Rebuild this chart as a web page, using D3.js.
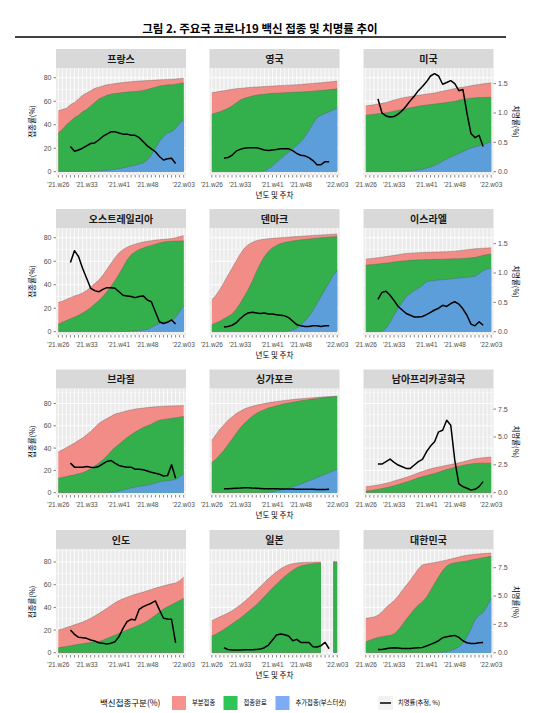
<!DOCTYPE html>
<html><head><meta charset="utf-8">
<script src="https://cdn.jsdelivr.net/npm/d3@7/dist/d3.min.js"></script>
<style>
body{margin:0;background:#fff}
svg{display:block}
text{font-family:"Noto Sans CJK KR","Noto Sans",sans-serif}
.tick{font-family:"Liberation Sans","DejaVu Sans",sans-serif}
</style>
</head><body><svg id="c" width="554" height="713"></svg>
<script>
// ---------------- DATA ----------------
const weeks = ["'21.w26","'21.w27","'21.w28","'21.w29","'21.w30","'21.w31","'21.w32","'21.w33","'21.w34","'21.w35","'21.w36","'21.w37","'21.w38","'21.w39","'21.w40","'21.w41","'21.w42","'21.w43","'21.w44","'21.w45","'21.w46","'21.w47","'21.w48","'21.w49","'21.w50","'21.w51","'21.w52","'21.w53","'22.w00","'22.w01","'22.w02","'22.w03"];
const tickWeeks = ["'21.w26","'21.w33","'21.w41","'21.w48","'22.w03"];
const leftTicks = [0,20,40,60,80];
const rightTicksA = [0,0.5,1.0,1.5];
const rightTicksB = [0,2.5,5.0,7.5];

const countryNames = ["프랑스","영국","미국","오스트레일리아","덴마크","이스라엘","브라질","싱가포르","남아프리카공화국","인도","일본","대한민국"];

// partial (at least one dose), fully vaccinated, booster (% of population), case fatality rate (%)
const franceDose1 = [52,53,54,57,59,62,65,67,69,71,72,73,74,74.5,75,75.5,76,76.3,76.6,77,77.2,77.4,77.6,77.8,78,78.2,78.4,78.6,78.8,79,79.3,79.6];
const franceFull  = [33,36,40,43,46,48,51,53,56,59,62,63.5,65,66,66.5,67,67.5,67.8,68,68.3,68.7,69.2,70,71,72,73,73.5,74,74,74.5,75,75.7];
const franceBoost = [0.3,0.3,0.3,0.3,0.3,0.3,0.3,0.4,0.5,0.6,0.8,1,1.3,1.7,2.1,2.6,3.2,4,4.8,5.6,6.5,7.5,10,14,20,26,30,33,34,37,41,44.5];
const franceCfr   = [null,null,null,0.43,0.35,0.37,0.40,0.44,0.48,0.49,0.54,0.60,0.64,0.68,0.68,0.66,0.64,0.64,0.62,0.62,0.58,0.51,0.44,0.39,0.34,0.26,0.20,0.22,0.23,0.14,null,null];

const ukDose1 = [67.2,67.8,68.4,69,69.6,70.2,70.6,71,71.3,71.6,71.9,72.1,72.3,72.5,72.7,72.9,73.1,73.3,73.5,73.7,73.9,74.1,74.3,74.6,74.9,75.2,75.5,75.8,76.1,76.4,76.8,77.2];
const ukFull  = [49,50,51,52.5,54,56,58.5,61,62.5,63.5,64.5,65.2,65.7,66,66.3,66.7,66.9,67.1,67.3,67.5,67.7,67.8,67.9,68,68.3,68.6,68.9,69.2,69.5,69.8,70.2,70.6];
const ukBoost = [0,0,0,0,0,0,0,0,0,0,0,0,0,0.5,2.5,5,8,11,14,16.5,19.5,22.5,25.5,30,35,41,46,48,49.5,51,52.5,54];
const ukCfr   = [null,null,null,0.23,0.24,0.28,0.35,0.38,0.40,0.41,0.41,0.41,0.39,0.37,0.36,0.37,0.38,0.39,0.39,0.39,0.36,0.31,0.28,0.27,0.24,0.19,0.12,0.12,0.17,0.17,null,null];

const usDose1 = [56,56.5,57,57.6,58.2,59,60,61,62,62.8,63.5,64,64.6,65.1,65.6,66.1,66.5,67,67.8,68.6,69.4,70.1,70.8,71.5,72,72.6,73.2,73.8,74.3,74.8,75.3,75.7];
const usFull  = [48.2,48.5,48.9,49.3,49.7,50.2,50.8,51.5,52.3,53,53.7,54.4,55.1,55.8,56.3,56.8,57.2,57.6,58,58.4,58.9,59.4,60,60.8,61.6,62.2,62.6,62.9,63.1,63.2,63.3,63.3];
const usBoost = [0,0,0,0,0,0,0.1,0.2,0.3,0.4,0.5,0.7,1,1.5,2.2,3,4,5.3,7,9,10.8,12.5,14,15.5,17,18.7,20.2,21.2,22,23,24.3,25.5];
const usCfr   = [null,null,null,1.24,1.00,0.95,0.93,0.94,0.98,1.04,1.12,1.21,1.29,1.38,1.45,1.53,1.63,1.67,1.63,1.49,1.52,1.55,1.50,1.38,1.40,1.00,0.65,0.58,0.62,0.43,null,null];

const auDose1 = [25,26,27.5,29,30.5,31.5,33,35,38,41,44,48,53,58,63,67,70,72,73.5,74.5,75.5,76.3,77,77.5,78,78.4,78.7,79,79.3,80,81,81.8];
const auFull  = [6.5,8,9.5,11,12.5,14,16,18,20.5,23.5,26.5,30,34,38.5,43.5,49,55,61,65.5,68,70,71.3,72.5,73.5,74.5,75.5,76.3,76.8,77,77.2,77.3,77.4];
const auBoost = [0,0,0,0,0,0,0,0,0,0,0,0,0,0,0,0.1,0.2,0.3,0.5,0.7,1,1.5,2,3.5,5.5,7,8,8.7,9.4,12,17,22.7];
const auCfr   = [null,null,null,1.18,1.38,1.28,1.08,0.91,0.74,0.70,0.68,0.72,0.75,0.75,0.74,0.68,0.62,0.61,0.60,0.58,0.60,0.61,0.54,0.51,0.34,0.17,0.14,0.16,0.20,0.13,null,null];

const dkDose1 = [27,31,36,42,48,54,60,66,71,74,76,77.5,78.3,78.8,79.2,79.5,79.8,80,80.3,80.5,80.8,81,81.2,81.5,81.7,82,82.2,82.4,82.6,82.8,83,83.2];
const dkFull  = [6,7.5,9,11,13,15,19,24,30,36,43,51,58,64,68.5,71.5,73.5,75,76,76.7,77.3,77.8,78.2,78.6,79,79.3,79.6,79.9,80.2,80.5,80.8,81];
const dkBoost = [0,0,0,0,0,0,0,0,0,0,0,0,0,0,0,0,0,0,0,0.5,1.5,3,5.5,9,13,18,24,30,36,42,48,52];
const dkCfr   = [null,null,null,0.08,0.09,0.11,0.15,0.22,0.28,0.32,0.33,0.32,0.31,0.32,0.30,0.30,0.29,0.28,0.27,0.24,0.18,0.12,0.10,0.09,0.09,0.10,0.10,0.09,0.10,0.10,null,null];

const ilDose1 = [61.8,62.2,62.6,63,63.5,64,64.5,65,65.6,66.2,66.6,66.9,67.1,67.3,67.5,67.6,67.7,67.8,67.9,68,68.1,68.3,68.6,69,69.4,69.8,70.2,70.6,70.9,71.1,71.3,71.5];
const ilFull  = [56.7,57,57.3,57.6,58,58.4,58.8,59.3,59.8,60.2,60.5,60.8,61,61.2,61.3,61.4,61.5,61.6,61.7,61.8,61.9,62,62.1,62.2,62.4,62.6,62.9,63.3,64,65,65.7,66.1];
const ilBoost = [0,0,0,0,0,3,8,14,20,25,30,32.5,35,37,39.5,42.5,43.2,43.6,44,44.3,44.6,45,45.3,45.7,46,46.4,46.8,47.2,49.5,52,53.3,54];
const ilCfr   = [null,null,null,0.55,0.67,0.69,0.62,0.53,0.43,0.37,0.31,0.28,0.25,0.25,0.26,0.29,0.33,0.37,0.40,0.45,0.43,0.48,0.51,0.47,0.39,0.28,0.13,0.10,0.17,0.11,null,null];

const brDose1 = [36.4,38.5,40.5,42.5,44.5,47,49,52,55,58.5,62,64.5,66.5,68.5,70.5,71.5,72.5,73.5,74.3,75,75.5,76,76.4,76.8,77.1,77.4,77.6,77.8,77.9,78,78.1,78.2];
const brFull  = [12.9,13.7,14.5,15.3,16.1,17,17.8,19.5,21.5,24,26.5,29.5,33,37,40.5,43.5,46.5,49.5,52,54.5,56.5,58.5,60,61.5,63.5,65,65.7,66.2,66.7,67.2,67.8,68.6];
const brBoost = [0,0,0,0,0,0,0,0,0,0,0,0,0,0.3,0.8,1.5,2.3,3.2,4.2,5,5.6,6.2,6.8,7.6,8.6,9.8,10.4,10.8,11.2,11.8,14,17.4];
const brCfr   = [null,null,null,2.65,2.29,2.29,2.29,2.35,2.29,2.26,2.35,2.59,2.80,2.89,2.65,2.44,2.35,2.29,2.29,2.10,2.10,2.05,1.95,1.83,1.74,1.65,1.50,1.53,2.50,1.29,null,null];

const sgDose1 = [47,52,57,61,65,68,71,73,75,76.5,77.5,78.5,79.3,80,80.7,81.3,81.8,82.3,82.8,83.2,83.6,84,84.3,84.6,84.9,85.2,85.5,85.8,86,86.2,86.4,86.6];
const sgFull  = [27,30,34,38,43,48,53,58,62,65.5,68.5,71,73,74.5,76,77,78,79,79.8,80.5,81.2,81.8,82.4,83,83.5,84,84.5,85,85.4,85.8,86.2,86.5];
const sgBoost = [0,0,0,0,0,0,0,0,0,0,0,0,0,0,0.3,0.8,1.5,2.3,3.2,4.2,5.3,6.5,7.8,9.2,10.6,12,13.5,15,16.5,18,19.5,21];
const sgCfr   = [null,null,null,0.35,0.35,0.38,0.40,0.42,0.45,0.45,0.42,0.40,0.38,0.36,0.35,0.35,0.34,0.33,0.33,0.32,0.32,0.31,0.30,0.30,0.30,0.30,0.29,0.28,0.28,0.30,null,null];

const zaDose1 = [5.4,5.8,6.3,6.9,7.6,8.4,9.4,10.5,11.6,12.6,13.8,15,16.4,17.8,19,20.3,21.4,22.3,23.1,23.8,24.6,25.3,26,26.8,27.6,28.6,29.6,30.4,31,31.4,31.7,31.9];
const zaFull  = [1.5,1.8,2.3,3,3.7,4.5,5.4,6.3,7.3,8.4,9.5,10.7,12,13.3,14.4,15.3,16.3,17.2,18.4,19.6,20.8,21.8,22.7,23.6,24.4,25.2,25.8,26.2,26.4,26.5,26.5,26.5];
const zaBoost = [0,0,0,0,0,0,0,0,0,0,0,0,0,0,0,0,0,0,0,0,0,0,0,0,0,0,0,0,0,0,0,0];
const zaCfr   = [null,null,null,2.57,2.57,2.78,3.01,2.72,2.48,2.33,2.18,2.18,2.48,2.78,2.99,3.67,4.18,4.57,5.46,5.60,6.50,6.06,2.90,0.78,0.54,0.39,0.24,0.30,0.54,0.99,null,null];

const inDose1 = [20,21,22.2,23.4,24.6,25.8,27,28.6,30.4,32.4,34.5,36.8,39.2,41.6,44,46,47.6,49,50.3,51.5,52.5,53.5,54.6,55.8,57,58,59,60,60.8,61.6,63.5,66.7];
const inFull  = [4.4,5,5.6,6.2,6.8,7.4,8,8.5,9,9.5,10,11,12.5,14,15.5,17,18.5,20,21.5,23,24.5,26,28,30.5,33,36,38.5,40.5,42.3,44.2,46.1,48];
const inBoost = [0,0,0,0,0,0,0,0,0,0,0,0,0,0,0,0,0,0,0,0,0,0,0,0,0,0,0,0,0,0,0,0];
const inCfr   = [null,null,null,2.00,1.62,1.36,1.33,1.27,1.12,1.03,0.88,0.83,0.77,0.83,0.97,1.42,2.15,2.74,2.95,2.89,3.83,4.07,4.22,4.37,4.57,3.78,3.04,2.98,2.95,0.88,null,null];

const jpDose1 = [28.3,30,31.7,33.3,35,37,39.5,42,45,48,51.5,55,58.5,62,65.3,68.5,71.5,74,76,77.6,78.6,79.2,79.5,79.7,79.8,79.9,80,80,null,null,80.5,80.5];
const jpFull  = [14.7,16.3,18.4,20.6,23,25.5,28,30.4,33.3,36.3,39.3,42.2,45.8,49.5,53.3,57,60.5,64,67.2,70.2,72.8,75,76.5,77.3,78,78.5,78.8,79,null,null,79.5,79.5];
const jpBoost = [0,0,0,0,0,0,0,0,0,0,0,0,0,0,0,0,0,0,0,0,0,0,0,0,0,0,0,0,null,null,0.5,0.5];
const jpCfr   = [null,null,null,0.44,0.29,0.24,0.24,0.24,0.27,0.27,0.27,0.29,0.32,0.44,0.68,1.12,1.56,1.65,1.59,1.47,1.06,1.18,0.91,0.91,0.91,0.53,0.50,0.62,0.91,0.35,null,null];

const krDose1 = [30.4,30.8,31.5,33,36,40,43,46,50,55,59.5,64,69,74,77.6,78.3,79,79.6,80.3,81,81.8,82.6,83.5,84.4,85.3,86,86.5,86.9,87.2,87.5,87.7,87.9];
const krFull  = [9.7,11,12.3,13.5,14.2,14.8,15.3,16.5,20,24.5,29.5,34,38.5,42,45,49,55,61,67,72.5,76.5,78.5,79.3,79.9,80.4,81,81.7,82.4,83.1,83.8,84.4,85];
const krBoost = [0,0,0,0,0,0,0,0,0,0,0,0,0,0,0,0,0,0,0.1,0.4,1,2,3.3,5,8.3,14,21,29,33,35.5,41,48];
const krCfr   = [null,null,null,0.29,0.29,0.35,0.41,0.44,0.41,0.38,0.38,0.38,0.41,0.44,0.47,0.59,0.74,0.88,1.06,1.32,1.41,1.47,1.53,1.35,1.06,0.88,0.82,0.82,0.88,0.91,null,null];

const legendTitle = "백신접종구분(%)";
const legendLabels = ["부분접종","접종완료","추가접종(부스터샷)"];
const lineLabel = "치명률(추정, %)";

// ---------------- LAYOUT ----------------
const panels = [
  [franceDose1,franceFull,franceBoost,franceCfr],
  [ukDose1,ukFull,ukBoost,ukCfr],
  [usDose1,usFull,usBoost,usCfr],
  [auDose1,auFull,auBoost,auCfr],
  [dkDose1,dkFull,dkBoost,dkCfr],
  [ilDose1,ilFull,ilBoost,ilCfr],
  [brDose1,brFull,brBoost,brCfr],
  [sgDose1,sgFull,sgBoost,sgCfr],
  [zaDose1,zaFull,zaBoost,zaCfr],
  [inDose1,inFull,inBoost,inCfr],
  [jpDose1,jpFull,jpBoost,jpCfr],
  [krDose1,krFull,krBoost,krCfr]
];
const colX = [56, 209.5, 363.5];
const panelW = 130;
const rowTop = [68, 228, 388.5, 549];
const panelH = [107, 107, 106.5, 106];
const rowDomain = [[-2.8,88.3],[-2.8,88.3],[-2.1,93.5],[-2.0,91.5]];
const rateFactor = [50,50,10,10];
const rightTicks = [rightTicksA, rightTicksA, rightTicksB, rightTicksB];
const fillCols = ["#F28C86","#33B04B","#5B9ED9"];
const legendCols = ["#F6918B","#2EC457","#7EACF4"];

const svg = d3.select("#c");
svg.append("rect").attr("width",554).attr("height",713).attr("fill","#fff");

// title
svg.append("text").attr("x",260).attr("y",33).attr("text-anchor","middle")
  .attr("font-size",11.5).attr("font-weight","bold").attr("fill","#000")
  .text("그림 2. 주요국 코로나19 백신 접종 및 치명률 추이");
svg.append("line").attr("x1",15).attr("x2",506).attr("y1",37).attr("y2",37)
  .attr("stroke","#000").attr("stroke-width",1.3);

panels.forEach((p,k)=>{
  const row = Math.floor(k/3), col = k%3;
  const x0 = colX[col], top = rowTop[row], H = panelH[row], bottom = top+H;
  const x = d3.scalePoint().domain(weeks).range([x0+2.3, x0+panelW-2.3]);
  const y = d3.scaleLinear().domain(rowDomain[row]).range([bottom, top]);
  const g = svg.append("g");
  g.append("rect").attr("x",x0).attr("y",top).attr("width",panelW).attr("height",H).attr("fill","#EBEBEB");
  // grid
  const minor = [10,30,50,70,90].filter(v=>v<rowDomain[row][1]);
  g.selectAll(null).data(minor).join("line")
    .attr("x1",x0).attr("x2",x0+panelW).attr("y1",d=>y(d)).attr("y2",d=>y(d))
    .attr("stroke","#fff").attr("stroke-width",0.45);
  g.selectAll(null).data(leftTicks).join("line")
    .attr("x1",x0).attr("x2",x0+panelW).attr("y1",d=>y(d)).attr("y2",d=>y(d))
    .attr("stroke","#fff").attr("stroke-width",0.9);
  g.selectAll(null).data(weeks).join("line")
    .attr("x1",d=>x(d)).attr("x2",d=>x(d)).attr("y1",top).attr("y2",bottom)
    .attr("stroke","#fff").attr("stroke-width",0.8);
  // areas
  [p[0],p[1],p[2]].forEach((s,j)=>{
    const area = d3.area().defined(d=>d!=null).x((d,i)=>x(weeks[i])).y0(y(0)).y1(d=>y(d));
    g.append("path").attr("d",area(s)).attr("fill",fillCols[j]);
    const ln = d3.line().defined(d=>d!=null).x((d,i)=>x(weeks[i])).y(d=>y(d));
    g.append("path").attr("d",ln(s)).attr("fill","none").attr("stroke","#555").attr("stroke-opacity",0.7).attr("stroke-width",0.5);
  });
  // fatality line
  const cl = d3.line().defined(d=>d!=null).x((d,i)=>x(weeks[i])).y(d=>y(d*rateFactor[row]));
  g.append("path").attr("d",cl(p[3])).attr("fill","none").attr("stroke","#000").attr("stroke-width",1.5).attr("stroke-linejoin","round");
  // strip
  g.append("rect").attr("x",x0).attr("y",top-19).attr("width",panelW).attr("height",19).attr("fill","#D9D9D9");
  g.append("text").attr("x",x0+panelW/2).attr("y",top-5.5).attr("text-anchor","middle")
    .attr("font-size",10).attr("font-weight","bold").attr("fill","#1A1A1A").text(countryNames[k]);
  // x axis
  g.selectAll(null).data(weeks).join("line")
    .attr("x1",d=>x(d)).attr("x2",d=>x(d)).attr("y1",bottom).attr("y2",bottom+2.5)
    .attr("stroke","#333").attr("stroke-width",0.6);
  g.selectAll(null).data(tickWeeks).join("text").attr("class","tick")
    .attr("x",d=>x(d)).attr("y",bottom+12).attr("text-anchor","middle")
    .attr("font-size",6.5).attr("fill","#4D4D4D").text(d=>d);
  if(col===0){
    g.selectAll(null).data(leftTicks).join("line")
      .attr("x1",x0-2.5).attr("x2",x0).attr("y1",d=>y(d)).attr("y2",d=>y(d))
      .attr("stroke","#333").attr("stroke-width",0.6);
    g.selectAll(null).data(leftTicks).join("text").attr("class","tick")
      .attr("x",x0-4.5).attr("y",d=>y(d)).attr("dy","0.35em").attr("text-anchor","end")
      .attr("font-size",7).attr("fill","#4D4D4D").text(d=>d);
    g.append("text").attr("transform",`translate(35,${top+H/2}) rotate(-90)`)
      .attr("text-anchor","middle").attr("font-size",7.5).attr("fill","#000").text("접종률(%)");
  }
  if(col===2){
    const rt = rightTicks[row];
    g.selectAll(null).data(rt).join("line")
      .attr("x1",x0+panelW).attr("x2",x0+panelW+2.5).attr("y1",d=>y(d*rateFactor[row])).attr("y2",d=>y(d*rateFactor[row]))
      .attr("stroke","#333").attr("stroke-width",0.6);
    g.selectAll(null).data(rt).join("text").attr("class","tick")
      .attr("x",x0+panelW+4.5).attr("y",d=>y(d*rateFactor[row])).attr("dy","0.35em").attr("text-anchor","start")
      .attr("font-size",7).attr("fill","#4D4D4D").text(d=>d.toFixed(1));
    g.append("text").attr("transform",`translate(513,${top+H/2}) rotate(90)`)
      .attr("text-anchor","middle").attr("font-size",7.5).attr("fill","#000").text("치명률(%)");
  }
  if(col===1){
    g.append("text").attr("x",x0+panelW/2).attr("y",bottom+22.5).attr("text-anchor","middle")
      .attr("font-size",7.5).attr("fill","#000").text("년도 및 주차");
  }
});

// legend
const ly = 703;
svg.append("text").attr("x",100).attr("y",ly).attr("dy","0.35em").attr("font-size",8.5).attr("fill","#000").text(legendTitle);
const keyX = [172, 223.5, 275.5];
legendLabels.forEach((l,i)=>{
  svg.append("rect").attr("x",keyX[i]).attr("y",ly-7).attr("width",14).attr("height",14).attr("fill",legendCols[i]);
  svg.append("text").attr("x",keyX[i]+20).attr("y",ly).attr("dy","0.35em").attr("font-size",6.3).attr("fill","#000").text(l);
});
svg.append("rect").attr("x",378).attr("y",ly-7).attr("width",15).attr("height",14).attr("fill","#F2F2F2");
svg.append("line").attr("x1",380).attr("x2",391).attr("y1",ly).attr("y2",ly).attr("stroke","#000").attr("stroke-width",1.5);
svg.append("text").attr("x",398).attr("y",ly).attr("dy","0.35em").attr("font-size",6.3).attr("fill","#000").text(lineLabel);
</script></body></html>
